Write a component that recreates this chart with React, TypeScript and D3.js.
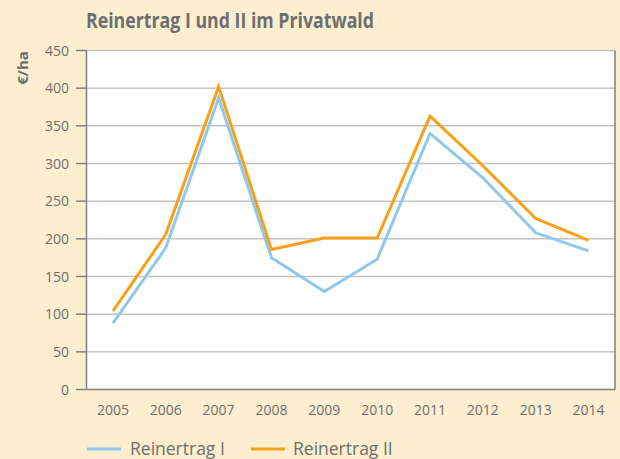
import React from "react";
import * as d3 from "d3";

const years = ["2005","2006","2007","2008","2009","2010","2011","2012","2013","2014"];
const reinertragI = [88, 188, 387, 175, 130, 173, 340, 281, 208, 184];
const reinertragII = [104, 206, 402, 186, 201, 201, 363, 297, 227, 198];
const yTicks = [0, 50, 100, 150, 200, 250, 300, 350, 400, 450];

const W = 620, H = 459;
const left = 86.5, right = 615, top = 50.5, bottom = 389.5;
const textColor = "#6d6e70";
const font = "'Open Sans', 'Noto Sans', sans-serif";

export default function App() {
  const x = d3.scalePoint<string>().domain(years).range([left, right]).padding(0.5);
  const y = d3.scaleLinear().domain([0, 450]).range([bottom, top]);
  const line = d3.line<number>().x((_, i) => x(years[i])!).y(d => y(d));
  return (
    <svg width={W} height={H} style={{ position: "absolute", left: 0, top: 0, display: "block" }}>
      <rect x={0} y={0} width={W} height={H} fill="#fdeed0" />
      <text x={86} y={27.5} fill={textColor} fontFamily={font} fontWeight="bold" fontSize={21} textLength={288} lengthAdjust="spacingAndGlyphs">Reinertrag I und II im Privatwald</text>
      <text transform={`translate(28,68) rotate(-90)`} textAnchor="middle" fill={textColor} fontFamily={font} fontWeight="bold" fontSize={15}>€/ha</text>
      <rect x={left} y={top} width={right - left} height={bottom - top} fill="#ffffff" />
      {yTicks.map(t => (
        <g key={t}>
          {t > 0 && <line x1={left} x2={right} y1={y(t)} y2={y(t)} stroke="#c4c4c4" strokeWidth={1.5} />}
          <line x1={76} x2={left} y1={y(t)} y2={y(t)} stroke="#808080" strokeWidth={1.5} />
          <text x={69} y={y(t)} dy="0.36em" textAnchor="end" fill={textColor} fontFamily={font} fontSize={14}>{t}</text>
        </g>
      ))}
      <line x1={left} x2={left} y1={top} y2={bottom} stroke="#808080" strokeWidth={1.5} />
      <line x1={right} x2={right} y1={top} y2={bottom} stroke="#808080" strokeWidth={1.5} />
      <line x1={left} x2={right} y1={bottom} y2={bottom} stroke="#808080" strokeWidth={1.5} />
      {years.map(yr => (
        <text key={yr} x={x(yr)} y={415} textAnchor="middle" fill={textColor} fontFamily={font} fontSize={14}>{yr}</text>
      ))}
      <path d={line(reinertragI)!} fill="none" stroke="#8fc8eb" strokeWidth={3} strokeLinejoin="miter" />
      <path d={line(reinertragII)!} fill="none" stroke="#f7a11a" strokeWidth={3} strokeLinejoin="miter" />
      <line x1={87} x2={121} y1={449} y2={449} stroke="#8fc8eb" strokeWidth={3} />
      <text x={130} y={455} fill={textColor} fontFamily={font} fontSize={17.5}>Reinertrag I</text>
      <line x1={251} x2={285} y1={449} y2={449} stroke="#f7a11a" strokeWidth={3} />
      <text x={293} y={455} fill={textColor} fontFamily={font} fontSize={17.5}>Reinertrag II</text>
    </svg>
  );
}
